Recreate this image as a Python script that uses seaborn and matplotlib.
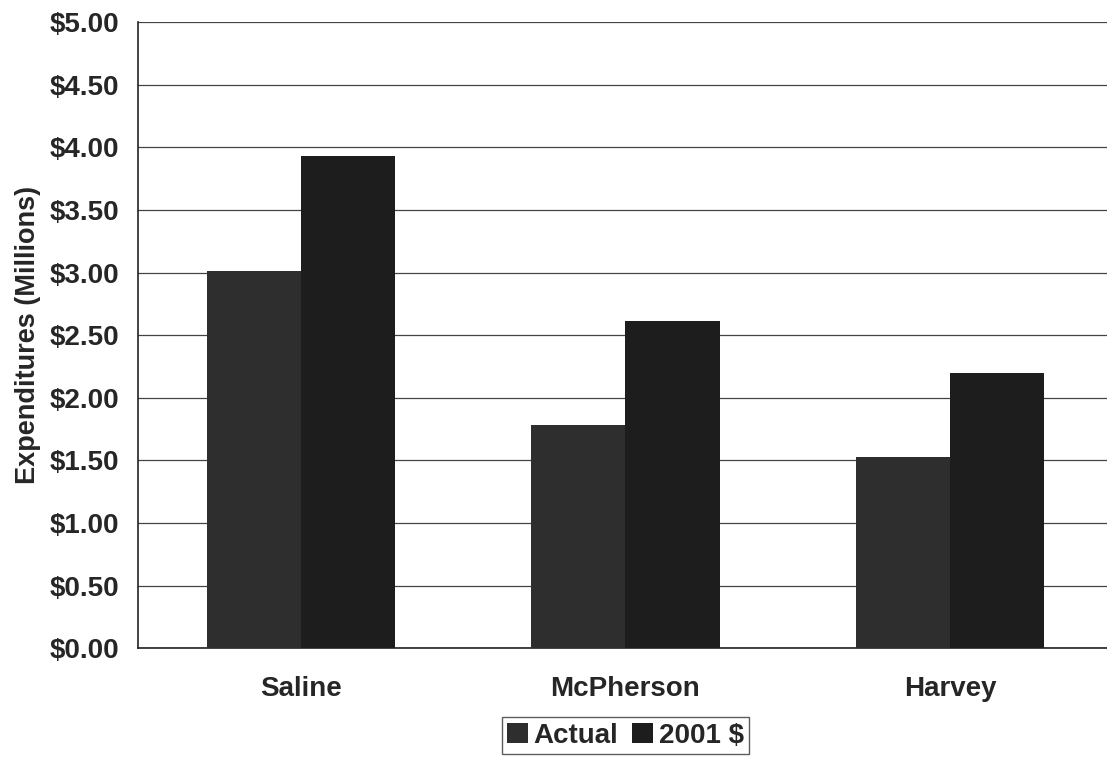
import matplotlib
matplotlib.use("Agg")
import matplotlib.pyplot as plt
import pandas as pd
import seaborn as sns

# County expenditures, actual vs. inflation-adjusted (2001 dollars), in $ millions
counties = ["Saline", "McPherson", "Harvey"]
actual = [3.01, 1.78, 1.53]
dollars_2001 = [3.93, 2.61, 2.20]
series_names = ["Actual", "2001 $"]
y_ticks = [0.0, 0.5, 1.0, 1.5, 2.0, 2.5, 3.0, 3.5, 4.0, 4.5, 5.0]

df = pd.DataFrame({
    "County": counties * 2,
    "Series": [series_names[0]] * len(counties) + [series_names[1]] * len(counties),
    "Value": actual + dollars_2001,
})

sns.set_theme(style="white")
plt.rcParams["font.family"] = ["Liberation Sans", "DejaVu Sans"]
plt.rcParams["font.weight"] = "bold"

fig = plt.figure(figsize=(11.07, 7.67), dpi=100)
ax = fig.add_axes([0.125, 0.155, 0.88, 0.816])

palette = {"Actual": "#2e2e2e", "2001 $": "#1d1d1d"}
sns.barplot(data=df, x="County", y="Value", hue="Series", order=counties,
            hue_order=series_names, palette=palette, width=0.58,
            saturation=1.0, linewidth=0, ax=ax, legend=True, zorder=3)

ax.set_ylim(0, 5.0)
ax.set_xlim(-0.5, 2.5)
ax.set_yticks(y_ticks)
ax.set_yticklabels([f"${v:.2f}" for v in y_ticks], fontsize=20, fontweight="bold")
ax.set_xticks(range(len(counties)))
ax.set_xticklabels(counties, fontsize=20, fontweight="bold")
ax.set_xlabel("")
ax.set_ylabel("Expenditures (Millions)", fontsize=19.5, fontweight="bold", labelpad=6)

ax.yaxis.grid(True, color="#444444", linewidth=0.9, zorder=0)
ax.xaxis.grid(False)
for side in ["top", "right"]:
    ax.spines[side].set_visible(False)
for side in ["left", "bottom"]:
    ax.spines[side].set_color("#222222")
    ax.spines[side].set_linewidth(1.2)
ax.tick_params(axis="y", which="major", direction="out", length=6, width=1,
               color="#222222", pad=8)
ax.tick_params(axis="x", length=0, pad=20)

handles, labels = ax.get_legend_handles_labels()
ax.legend(handles, labels, loc="upper center", bbox_to_anchor=(0.5, -0.11),
          ncol=2, frameon=True, fancybox=False, edgecolor="#333333",
          prop={"size": 20, "weight": "bold"}, handlelength=0.75,
          handleheight=0.75, handletextpad=0.2, columnspacing=0.5,
          borderpad=0.2, borderaxespad=0)

fig.savefig("out.png", dpi=100, facecolor="white")
